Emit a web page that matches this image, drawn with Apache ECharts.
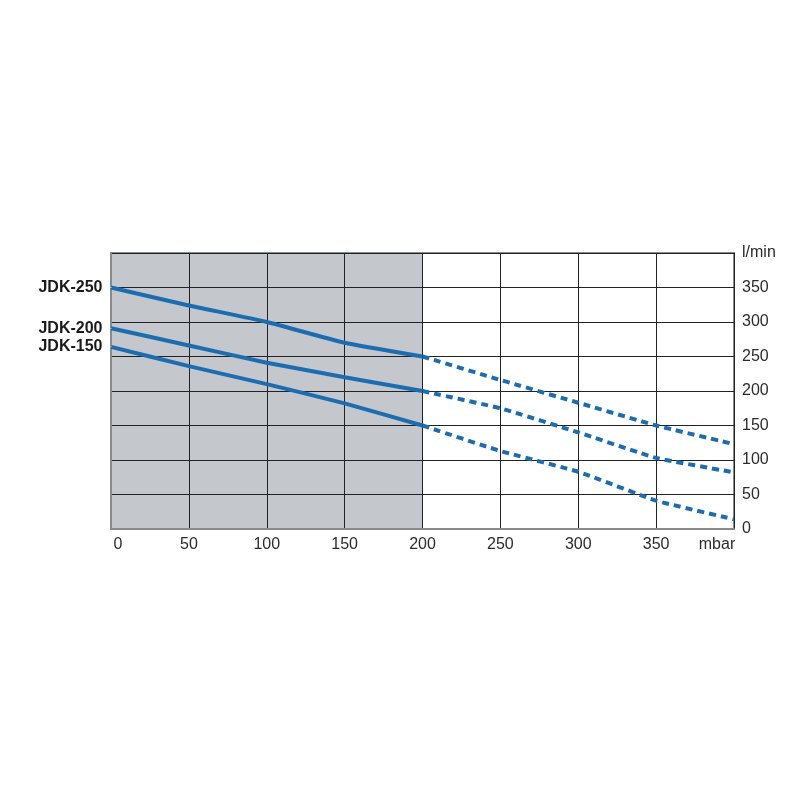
<!DOCTYPE html>
<html>
<head>
<meta charset="utf-8">
<script src="https://cdn.jsdelivr.net/npm/echarts@6/dist/echarts.min.js"></script>
<style>
  html, body { margin: 0; padding: 0; background: #fff; }
  #chart { width: 800px; height: 800px; }
</style>
</head>
<body>
<div id="chart"></div>
<script>
// pressure (mbar)
var pressureSolid = [0, 50, 100, 150, 200]
var pressureDashed = [200, 250, 300, 350, 400]

// flow (l/min)
var jdk250Solid = [350, 324, 300, 270, 250]
var jdk250Dashed = [250, 216, 183, 150, 123]
var jdk200Solid = [291, 266, 241, 220, 200]
var jdk200Dashed = [200, 175, 140, 103, 82]
var jdk150Solid = [264, 236, 210, 182, 150]
var jdk150Dashed = [150, 113, 83, 41, 14]

var names = ['JDK-250', 'JDK-200', 'JDK-150']
var shadedRange = [0, 200]

var blue = '#1b6db0'

function pairs(xs, ys) {
  return xs.map(function (x, i) { return [x, ys[i]] })
}

function solid(name, ys) {
  return {
    name: name,
    type: 'line',
    data: pairs(pressureSolid, ys),
    symbol: 'none',
    smooth: 0.15,
    lineStyle: { color: blue, width: 4 },
    z: 3
  }
}

function dashed(name, ys) {
  return {
    name: name + ' (ext)',
    type: 'line',
    data: pairs(pressureDashed, ys),
    symbol: 'none',
    smooth: 0.1,
    lineStyle: { color: blue, width: 4, type: [7, 5] },
    z: 3
  }
}

// curve names sit just left of each curve's starting point
var nameSeries = {
  name: 'names',
  type: 'scatter',
  symbol: 'circle',
  symbolSize: 1,
  itemStyle: { color: '#ffffff', opacity: 1 },
  silent: true,
  z: 4,
  data: [
    { value: [pressureSolid[0], jdk250Solid[0]], name: names[0] },
    { value: [pressureSolid[0], jdk200Solid[0]], name: names[1] },
    { value: [pressureSolid[0], jdk150Solid[0]], name: names[2] }
  ],
  label: {
    show: true,
    position: 'left',
    distance: 8,
    formatter: '{b}',
    fontFamily: 'Liberation Sans, Arial, sans-serif',
    fontWeight: 'bold',
    fontSize: 16,
    color: '#1a1a1a',
    opacity: 1
  },
  labelLayout: { hideOverlap: false }
}

var chart = echarts.init(document.getElementById('chart'))
chart.setOption({
  animation: false,
  backgroundColor: '#fff',
  textStyle: { fontFamily: 'Liberation Sans, Arial, sans-serif' },
  grid: {
    left: 111, right: 66, top: 253, bottom: 271,
    show: true,
    borderColor: '#8a8a8a',
    borderWidth: 2
  },
  xAxis: {
    type: 'value',
    z: 2,
    min: 0, max: 400, interval: 50,
    axisLine: { show: true, lineStyle: { color: '#8a8a8a', width: 2 } },
    axisTick: { show: false },
    splitLine: { show: true, lineStyle: { color: '#222', width: 1 } },
    axisLabel: {
      margin: 8,
      fontSize: 16,
      color: '#2b2b2b',
      showMaxLabel: true,
      formatter: function (v) {
        if (v === 400) return '{m|mbar}'
        if (v === 0) return '{z|0}'
        return v
      },
      rich: {
        m: { fontSize: 16, color: '#2b2b2b', padding: [0, 34, 0, 0] },
        z: { fontSize: 16, color: '#2b2b2b', padding: [0, 0, 0, 14] }
      }
    }
  },
  yAxis: {
    type: 'value',
    z: 2,
    position: 'right',
    min: 0, max: 400, interval: 50,
    axisLine: { show: true, lineStyle: { color: '#8a8a8a', width: 2 } },
    axisTick: { show: false },
    splitLine: { show: true, lineStyle: { color: '#222', width: 1 } },
    axisLabel: {
      margin: 8,
      fontSize: 16,
      color: '#2b2b2b',
      showMaxLabel: true,
      formatter: function (v) { return v === 400 ? 'l/min' : v }
    }
  },
  series: [
    {
      name: 'shade',
      type: 'line',
      data: [],
      z: 1,
      markArea: {
        silent: true,
        itemStyle: { color: '#c4c7cc' },
        data: [[{ xAxis: shadedRange[0] }, { xAxis: shadedRange[1] }]]
      }
    },
    solid(names[0], jdk250Solid),
    dashed(names[0], jdk250Dashed),
    solid(names[1], jdk200Solid),
    dashed(names[1], jdk200Dashed),
    solid(names[2], jdk150Solid),
    dashed(names[2], jdk150Dashed),
    nameSeries
  ]
})
</script>
</body>
</html>
